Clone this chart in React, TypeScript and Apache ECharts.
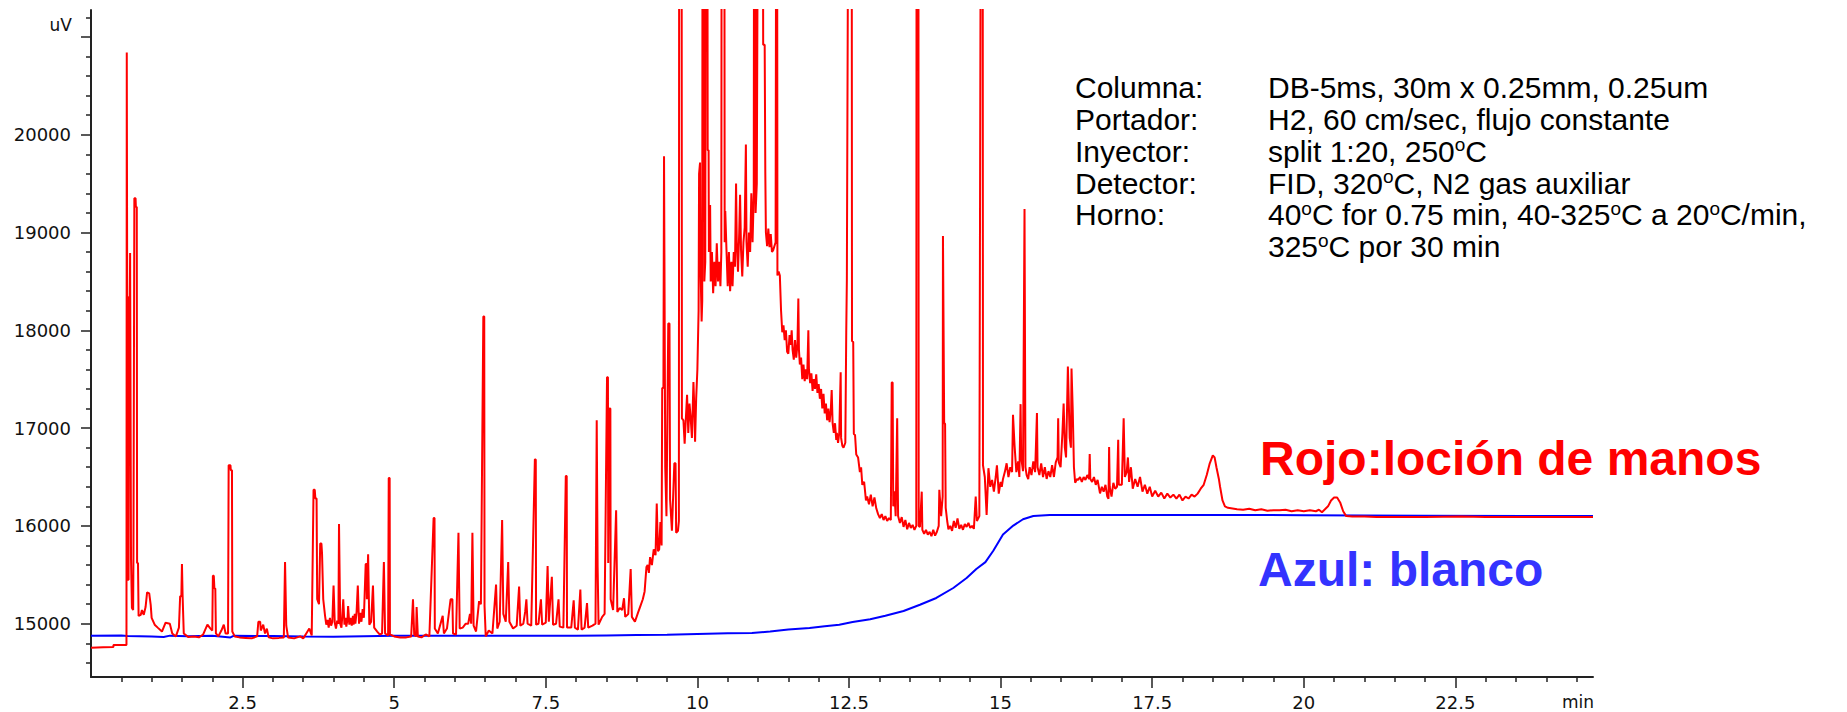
import React, { useEffect, useRef } from "react";
import * as echarts from "echarts";

// ---------- data ----------
const xLabelValues = [2.5, 5, 7.5, 10, 12.5, 15, 17.5, 20, 22.5];
const xMinorTickValues = [0.5, 1, 1.5, 2, 3, 3.5, 4, 4.5, 5.5, 6, 6.5, 7, 8, 8.5, 9, 9.5, 10.5, 11, 11.5, 12, 13, 13.5, 14, 14.5, 15.5, 16, 16.5, 17, 18, 18.5, 19, 19.5, 20.5, 21, 21.5, 22, 23, 23.5, 24, 24.5];
const yLabelValues = [15000, 16000, 17000, 18000, 19000, 20000];
const yMajorTickValues = [15000, 16000, 17000, 18000, 19000, 20000, 21000];
const yMinorTickValues = [14600, 14800, 15200, 15400, 15600, 15800, 16200, 16400, 16600, 16800, 17200, 17400, 17600, 17800, 18200, 18400, 18600, 18800, 19200, 19400, 19600, 19800, 20200, 20400, 20600, 20800, 21200];
const xMin = 0;
const xMax = 24.77;
const yMin = 14455;
const yMax = 21275;

const annotationLabels = ["Columna:", "Portador:", "Inyector:", "Detector:", "Horno:", ""];
const annotationValues = [
  "DB-5ms, 30m x 0.25mm, 0.25um",
  "H2, 60 cm/sec, flujo constante",
  "split 1:20, 250ºC",
  "FID, 320ºC, N2 gas auxiliar",
  "40ºC for 0.75 min, 40-325ºC a 20ºC/min,",
  "325ºC por 30 min",
];
const redLegend = "Rojo:loción de manos";
const blueLegend = "Azul: blanco";

// muestra: loción de manos (t [min], señal [uV])
const redTrace: [number, number][] = [
  [0.0, 14755], [0.2, 14760], [0.37, 14762], [0.37, 14782], [0.585, 14782],
  [0.59, 20840], [0.6, 20840], [0.605, 15450], [0.62, 15450], [0.625, 18340], [0.64, 18340], [0.645, 18790], [0.655, 18790],
  [0.66, 15660], [0.675, 15160], [0.695, 15140], [0.7, 15700], [0.715, 19350], [0.735, 19350], [0.74, 19260], [0.755, 19260],
  [0.76, 15620], [0.775, 15620], [0.785, 15080], [0.82, 15090], [0.84, 15140], [0.87, 15090], [0.9, 15170], [0.925, 15320],
  [0.96, 15310], [0.985, 15190], [1.0, 15060], [1.05, 14990], [1.1, 14960], [1.17, 14920], [1.23, 15010], [1.3, 15000], [1.34, 14900],
  [1.4, 14870], [1.45, 14960], [1.47, 15280], [1.49, 15280], [1.5, 15610], [1.51, 15300], [1.53, 14900], [1.6, 14865],
  [1.7, 14870], [1.78, 14860], [1.85, 14890], [1.92, 14990], [1.97, 14950], [2.0, 14930], [2.01, 15490], [2.025, 15490],
  [2.035, 15360], [2.05, 15360], [2.06, 14900], [2.1, 14870], [2.15, 14930], [2.19, 14990], [2.22, 14900], [2.26, 14900],
  [2.27, 16620], [2.3, 16620], [2.305, 16570], [2.325, 16570], [2.33, 14920], [2.37, 14870], [2.45, 14860], [2.55, 14855],
  [2.65, 14850], [2.74, 14870], [2.76, 15020], [2.79, 15020], [2.8, 14930], [2.84, 14990], [2.87, 14900], [2.9, 14950],
  [2.93, 14860], [3.0, 14850], [3.1, 14855], [3.18, 14860], [3.2, 15630], [3.21, 15630], [3.22, 14980], [3.25, 14860],
  [3.35, 14850], [3.45, 14870], [3.5, 14850], [3.55, 14900], [3.6, 14950], [3.64, 14880],
  [3.67, 16370], [3.69, 16370], [3.7, 16280], [3.72, 16280], [3.73, 15250], [3.76, 15200], [3.78, 15820], [3.8, 15820],
  [3.81, 15720], [3.82, 15720], [3.83, 15250], [3.86, 15080], [3.88, 14990], [3.9, 15040], [3.92, 14960], [3.94, 15060], [3.96, 14980], [3.98, 15020], [4.0, 15390],
  [4.01, 15390], [4.02, 15010], [4.04, 14950], [4.06, 15030], [4.08, 15000], [4.09, 16020], [4.1, 16020], [4.11, 15000], [4.13, 14960], [4.14, 15040],
  [4.16, 15250], [4.17, 15250], [4.18, 14990], [4.2, 15060], [4.21, 14970], [4.23, 15040], [4.24, 15180], [4.25, 15180], [4.26, 14990], [4.28, 15060], [4.3, 14980],
  [4.32, 15080], [4.33, 14990], [4.35, 15100], [4.36, 15000], [4.38, 15120], [4.4, 15390], [4.41, 15390], [4.42, 15000], [4.44, 15110], [4.46, 15020], [4.48, 15150], [4.5, 15060], [4.53, 15610],
  [4.545, 15610], [4.55, 15250], [4.57, 15710], [4.58, 15710], [4.59, 14990], [4.62, 15020], [4.65, 15390], [4.66, 15390],
  [4.67, 14960], [4.72, 14920], [4.76, 14890], [4.8, 14900], [4.83, 15630], [4.84, 15630], [4.85, 14900], [4.9, 14880],
  [4.91, 16490], [4.925, 16490], [4.93, 14890], [5.0, 14870], [5.1, 14860], [5.2, 14860], [5.28, 14870], [5.31, 15250],
  [5.32, 15250], [5.33, 14890], [5.36, 14870], [5.37, 15170], [5.38, 15170], [5.39, 14870], [5.45, 14860], [5.52, 14890], [5.58, 14870],
  [5.65, 16080], [5.665, 16080], [5.67, 14950], [5.72, 14900], [5.8, 15080], [5.81, 15080], [5.82, 14900], [5.87, 14950],
  [5.93, 15250], [5.96, 15250], [5.97, 14900], [6.02, 14890], [6.06, 15930], [6.07, 15930], [6.08, 14950], [6.13, 14960],
  [6.18, 15000], [6.22, 15000], [6.25, 15100], [6.27, 15000], [6.29, 15930], [6.3, 15930], [6.31, 14980], [6.35, 14920],
  [6.4, 15230], [6.43, 15200], [6.47, 18140], [6.485, 18140], [6.49, 15180], [6.51, 14870], [6.56, 14930], [6.62, 14900],
  [6.68, 15400], [6.69, 15400], [6.7, 14950], [6.74, 15020], [6.78, 16060], [6.79, 16060], [6.8, 15100], [6.84, 15020],
  [6.88, 15630], [6.89, 15630], [6.9, 15020], [6.96, 14950], [7.02, 14980], [7.06, 15380], [7.07, 15380], [7.08, 14980],
  [7.13, 15000], [7.16, 15120], [7.18, 15250], [7.19, 15250], [7.2, 15000], [7.26, 14980], [7.32, 16680], [7.335, 16680],
  [7.34, 14990], [7.38, 15000], [7.42, 15250], [7.43, 15250], [7.44, 14990], [7.5, 15010], [7.53, 15590], [7.54, 15590],
  [7.55, 15020], [7.6, 15480], [7.61, 15480], [7.62, 14990], [7.67, 15000], [7.71, 15250], [7.72, 15250], [7.73, 14970],
  [7.79, 14960], [7.83, 16510], [7.845, 16510], [7.85, 14960], [7.92, 14960], [7.96, 15240], [7.97, 15240], [7.98, 14960],
  [8.03, 14940], [8.07, 15350], [8.08, 15350], [8.09, 14940], [8.14, 14960], [8.18, 15210], [8.19, 15210], [8.2, 14960],
  [8.27, 14980], [8.32, 15000], [8.34, 17080], [8.35, 17080], [8.355, 15580], [8.37, 14990], [8.43, 15070], [8.47, 15100],
  [8.51, 17520], [8.525, 17520], [8.53, 15620], [8.55, 17200], [8.565, 17200], [8.57, 15250], [8.61, 15140], [8.66, 16160],
  [8.67, 16160], [8.68, 15120], [8.72, 15160], [8.76, 15140], [8.79, 15260], [8.8, 15260], [8.81, 15070], [8.86, 15100],
  [8.9, 15560], [8.91, 15560], [8.92, 15070], [8.97, 15020], [9.02, 15110], [9.06, 15180], [9.1, 15250], [9.13, 15330],
  [9.16, 15580], [9.18, 15600], [9.2, 15520], [9.22, 15680], [9.25, 15600], [9.28, 15760], [9.31, 15700], [9.33, 16230],
  [9.34, 16230], [9.35, 15740], [9.37, 15760], [9.39, 16040], [9.41, 15800], [9.42, 17410], [9.44, 17410], [9.45, 19780],
  [9.46, 19780], [9.47, 16600], [9.49, 16100], [9.52, 18070], [9.54, 18070], [9.55, 16270], [9.58, 15950], [9.62, 16640],
  [9.64, 16640], [9.65, 15930], [9.68, 15950],
  [9.695, 16050], [9.7, 23000], [9.74, 23000], [9.745, 17100],
  [9.77, 17080], [9.79, 16840], [9.81, 17100], [9.83, 17340], [9.85, 16950], [9.87, 17250], [9.89, 17100], [9.91, 16900],
  [9.935, 17470], [9.95, 17200], [9.962, 16860], [9.98, 17300], [10.0, 17600], [10.02, 18200], [10.028, 19600], [10.035, 19600],
  [10.044, 19716], [10.05, 18700], [10.07, 18090], [10.08, 18300], [10.085, 23000], [10.11, 23000], [10.115, 18500], [10.13, 18700],
  [10.14, 23000], [10.165, 23000], [10.17, 19840], [10.185, 19840], [10.19, 18800], [10.21, 19280], [10.22, 18500], [10.24, 18800],
  [10.26, 18380], [10.28, 18700], [10.3, 18450], [10.32, 18890], [10.34, 18500], [10.36, 18700], [10.38, 18450], [10.395, 18800],
  [10.4, 23000], [10.445, 23000], [10.45, 18900], [10.46, 19220], [10.48, 18820], [10.5, 18450], [10.52, 18800], [10.54, 18400],
  [10.56, 18700], [10.58, 18450], [10.6, 18800], [10.62, 18650], [10.638, 19500], [10.65, 18900], [10.67, 18600], [10.69, 19000],
  [10.704, 19386], [10.72, 18820], [10.74, 18550], [10.76, 18900], [10.78, 19050], [10.8, 19900], [10.81, 18900], [10.83, 18650],
  [10.85, 19000], [10.87, 18800], [10.89, 19400], [10.91, 18900], [10.93, 19390], [10.935, 23000], [10.955, 23000], [10.96, 19200],
  [10.98, 19500], [11.0, 23000], [11.08, 23000], [11.085, 20920], [11.11, 20920], [11.12, 19620], [11.13, 19000], [11.15, 18860],
  [11.17, 19040], [11.19, 18850], [11.21, 18984], [11.23, 18800], [11.25, 18820], [11.29, 18900], [11.3, 23000], [11.315, 23000],
  [11.32, 18560], [11.34, 18600], [11.36, 18560], [11.38, 18200],
  [11.4, 17980], [11.42, 18050], [11.44, 17900], [11.46, 18000], [11.48, 17780], [11.5, 17760], [11.52, 17950], [11.54, 17850],
  [11.555, 18000], [11.57, 17800], [11.59, 17700], [11.61, 17900], [11.63, 17720], [11.65, 17850], [11.665, 18325], [11.675, 17800],
  [11.69, 17650], [11.71, 17720], [11.73, 17500], [11.75, 17650], [11.77, 17480], [11.79, 17600], [11.81, 17500], [11.83, 18000],
  [11.84, 17600], [11.86, 17460], [11.88, 17560], [11.9, 17380], [11.92, 17500], [11.94, 17400], [11.96, 17550], [11.98, 17360],
  [12.0, 17450], [12.02, 17300], [12.04, 17400], [12.06, 17200], [12.08, 17350], [12.1, 17150], [12.12, 17250], [12.14, 17080],
  [12.16, 17200], [12.18, 17060], [12.2, 17180], [12.215, 17390], [12.23, 17050], [12.25, 16950], [12.27, 17050], [12.29, 16880],
  [12.3, 16950], [12.32, 16850], [12.34, 16950], [12.363, 17570], [12.37, 16900], [12.39, 16820], [12.41, 16800], [12.44, 16850],
  [12.455, 17980], [12.465, 18510], [12.49, 23000], [12.545, 23000], [12.55, 17890], [12.57, 17880], [12.58, 16940], [12.6, 16930],
  [12.62, 16730], [12.65, 16700], [12.68, 16550], [12.7, 16600], [12.72, 16420], [12.75, 16450], [12.78, 16260], [12.8, 16300],
  [12.83, 16220], [12.86, 16320], [12.89, 16200], [12.92, 16290], [12.95, 16180], [12.98, 16120], [13.01, 16080], [13.04, 16120],
  [13.07, 16060], [13.1, 16100], [13.13, 16050], [13.16, 16080], [13.19, 16060], [13.205, 17466], [13.22, 17466], [13.23, 16200],
  [13.25, 16354], [13.27, 16100], [13.295, 17100], [13.305, 17100], [13.31, 16100], [13.34, 16030], [13.37, 16090], [13.4, 15990],
  [13.43, 16060], [13.46, 15965], [13.49, 16030], [13.52, 15980], [13.55, 16010], [13.58, 15960], [13.61, 16000], [13.615, 23000],
  [13.645, 23000], [13.65, 16000], [13.67, 15990], [13.7, 16350], [13.71, 15960], [13.74, 15920], [13.77, 15960], [13.8, 15910],
  [13.83, 15940], [13.86, 15895], [13.89, 15960], [13.92, 15900], [13.95, 15940], [13.98, 16000], [13.99, 16370], [14.02, 16100],
  [14.045, 16300], [14.05, 18965], [14.06, 18965], [14.07, 17050], [14.085, 17045], [14.095, 16185], [14.12, 16050], [14.14, 15965],
  [14.17, 16000], [14.2, 15950], [14.23, 16050], [14.26, 15980], [14.29, 16076], [14.32, 15970], [14.35, 16010], [14.38, 15960],
  [14.41, 16020], [14.44, 15990], [14.47, 16030], [14.5, 15980], [14.53, 16000], [14.56, 15970], [14.59, 16300], [14.61, 16050],
  [14.65, 16100], [14.675, 23000], [14.705, 23000], [14.71, 16620], [14.74, 16500], [14.77, 16112], [14.8, 16590], [14.83, 16400],
  [14.86, 16470], [14.89, 16350], [14.92, 16500], [14.94, 16620], [14.97, 16330], [15.0, 16450], [15.02, 16400], [15.04, 16480],
  [15.07, 16550], [15.1, 16640], [15.13, 16500], [15.16, 16600], [15.19, 16550], [15.205, 17136], [15.215, 17136], [15.23, 16830],
  [15.26, 16550], [15.29, 16660], [15.31, 16500], [15.33, 17245], [15.34, 16700], [15.37, 16560], [15.395, 19240], [15.405, 19240],
  [15.41, 16600], [15.43, 16520], [15.456, 16478], [15.48, 16600], [15.51, 16520], [15.54, 16660], [15.57, 16550], [15.6, 17155],
  [15.61, 16600], [15.64, 16520], [15.67, 16640], [15.7, 16500], [15.73, 16600], [15.76, 16480], [15.79, 16560], [15.82, 16500],
  [15.85, 16620], [15.88, 16500], [15.91, 16650], [15.94, 16700], [15.95, 17100], [15.96, 16650], [15.99, 16600], [16.02, 16950],
  [16.04, 17250], [16.06, 16800], [16.08, 16700], [16.11, 17630], [16.12, 17630], [16.14, 16900], [16.16, 16800], [16.17, 17610],
  [16.18, 17610], [16.19, 17190], [16.21, 16600], [16.23, 16441], [16.26, 16480], [16.28, 16470], [16.31, 16500], [16.34, 16450],
  [16.37, 16500], [16.4, 16470], [16.43, 16520], [16.46, 16480], [16.47, 16734], [16.48, 16480], [16.51, 16450], [16.54, 16500],
  [16.57, 16420], [16.6, 16470], [16.64, 16332], [16.67, 16400], [16.7, 16350], [16.73, 16420], [16.76, 16300], [16.78, 16277],
  [16.79, 16807], [16.8, 16400], [16.83, 16300], [16.86, 16441], [16.89, 16380], [16.92, 16400], [16.94, 16880], [16.95, 16420],
  [17.0, 16420], [17.03, 17100], [17.04, 17100], [17.05, 16500], [17.08, 16550], [17.1, 16700], [17.12, 16450], [17.15, 16600],
  [17.18, 16380], [17.22, 16480], [17.26, 16400], [17.3, 16500], [17.34, 16350], [17.38, 16420], [17.42, 16330], [17.46, 16400],
  [17.5, 16300], [17.55, 16360], [17.6, 16300], [17.65, 16340], [17.7, 16280], [17.75, 16330], [17.8, 16290], [17.85, 16320],
  [17.9, 16280], [17.95, 16320], [18.0, 16260], [18.05, 16300], [18.1, 16280], [18.15, 16320], [18.2, 16300], [18.25, 16330],
  [18.3, 16380], [18.35, 16420], [18.4, 16520], [18.45, 16640], [18.5, 16720], [18.53, 16700], [18.56, 16600], [18.6, 16480],
  [18.62, 16400], [18.66, 16260], [18.7, 16200], [18.75, 16185], [18.8, 16180], [18.9, 16170], [19.0, 16165], [19.1, 16175],
  [19.2, 16160], [19.3, 16170], [19.4, 16155], [19.5, 16160], [19.6, 16160], [19.7, 16165], [19.8, 16150], [19.9, 16160],
  [20.0, 16150], [20.1, 16160], [20.2, 16150], [20.25, 16165], [20.3, 16140], [20.35, 16170], [20.4, 16200], [20.45, 16260],
  [20.5, 16290], [20.55, 16290], [20.6, 16240], [20.65, 16150], [20.7, 16100], [20.8, 16095], [21.0, 16095], [21.2, 16090],
  [21.6, 16092], [22.0, 16090], [22.6, 16095], [23.0, 16090], [23.6, 16092], [24.2, 16090], [24.77, 16090],
];

// blanco (t [min], señal [uV])
const blueTrace: [number, number][] = [
  [0.0, 14878], [0.5, 14880], [0.6, 14875], [1.0, 14870], [1.2, 14865], [1.3, 14878], [1.6, 14872], [2.0, 14876],
  [2.3, 14860], [2.35, 14876], [3.0, 14874], [3.5, 14868], [4.0, 14866], [4.5, 14872], [5.0, 14876], [6.0, 14878],
  [7.0, 14878], [7.5, 14878], [8.0, 14876], [8.5, 14880], [9.0, 14884], [9.5, 14888], [10.0, 14895], [10.5, 14902],
  [10.9, 14905], [11.2, 14920], [11.5, 14940], [11.85, 14956], [12.1, 14975], [12.34, 14990], [12.56, 15017], [12.85, 15045],
  [13.1, 15082], [13.4, 15130], [13.67, 15194], [13.94, 15263], [14.22, 15365], [14.44, 15467], [14.6, 15560], [14.75, 15630],
  [14.88, 15746], [15.04, 15911], [15.21, 16003], [15.37, 16068], [15.54, 16101], [15.81, 16112], [16.5, 16112], [18.0, 16112],
  [20.0, 16110], [22.0, 16105], [24.77, 16100],
];

// ---------- helpers ----------
const toRich = (s: string) =>
  s.split("º").map((p) => (p ? `{a|${p}}` : "")).join("{s|o}");

const axisColor = "#222";
const tickFont = "DejaVu Sans";

export default function App() {
  const ref = useRef<HTMLDivElement>(null);

  useEffect(() => {
    if (!ref.current) return;
    const chart = echarts.init(ref.current, undefined, { renderer: "svg" });

    const annFont = "Liberation Sans, Arial, sans-serif";
    const rowY0 = 87.6;
    const rowStep = 31.8;
    const graphics: any[] = [];
    annotationLabels.forEach((lab, i) => {
      if (lab) {
        graphics.push({
          type: "text",
          x: 1075,
          y: rowY0 + i * rowStep,
          style: { text: lab, fill: "#000", fontSize: 30, fontFamily: annFont, align: "left", verticalAlign: "middle" },
        });
      }
    });
    annotationValues.forEach((val, i) => {
      graphics.push({
        type: "text",
        x: 1268,
        y: rowY0 + i * rowStep,
        style: {
          text: toRich(val),
          fill: "#000",
          fontSize: 30,
          fontFamily: annFont,
          align: "left",
          verticalAlign: "middle",
          rich: {
            a: { fontSize: 30, fontFamily: annFont, fill: "#000", lineHeight: 32 },
            s: { fontSize: 19, fontFamily: annFont, fill: "#000", lineHeight: 19, verticalAlign: "top" },
          },
        },
      });
    });
    graphics.push({
      type: "text",
      x: 1260,
      y: 458,
      style: { text: redLegend, fill: "#FF0000", fontSize: 48, fontWeight: "bold", fontFamily: annFont, align: "left", verticalAlign: "middle" },
    });
    graphics.push({
      type: "text",
      x: 1258,
      y: 569,
      style: { text: blueLegend, fill: "#3333FF", fontSize: 48, fontWeight: "bold", fontFamily: annFont, align: "left", verticalAlign: "middle" },
    });
    graphics.push({
      type: "text",
      x: 72,
      y: 25,
      style: { text: "uV", fill: "#111", fontSize: 17, fontFamily: tickFont, align: "right", verticalAlign: "middle" },
    });
    graphics.push({
      type: "text",
      x: 1594,
      y: 702,
      style: { text: "min", fill: "#111", fontSize: 17, fontFamily: tickFont, align: "right", verticalAlign: "middle" },
    });

    const plain = (v: number) => String(v);

    const option: any = {
      animation: false,
      backgroundColor: "#ffffff",
      grid: { left: 91, top: 10, right: 254, bottom: 35, containLabel: false },
      xAxis: [
        {
          type: "value",
          min: xMin,
          max: xMax,
          position: "bottom",
          axisLine: { show: true, onZero: false, lineStyle: { color: axisColor, width: 2 } },
          axisTick: { show: true, customValues: xMinorTickValues, length: 5, lineStyle: { color: axisColor, width: 1.5 } },
          axisLabel: { show: true, customValues: xLabelValues, margin: 16, color: "#111", fontSize: 18, fontFamily: tickFont, formatter: plain },
          splitLine: { show: false },
        },
        {
          type: "value",
          min: xMin,
          max: xMax,
          position: "bottom",
          gridIndex: 0,
          axisLine: { show: false, onZero: false },
          axisTick: { show: true, customValues: xLabelValues, length: 11, lineStyle: { color: axisColor, width: 1.5 } },
          axisLabel: { show: false },
          splitLine: { show: false },
        },
      ],
      yAxis: [
        {
          type: "value",
          min: yMin,
          max: yMax,
          position: "left",
          axisLine: { show: true, onZero: false, lineStyle: { color: axisColor, width: 2 } },
          axisTick: { show: true, customValues: yMajorTickValues, length: 10, lineStyle: { color: axisColor, width: 1.5 } },
          axisLabel: { show: true, customValues: yLabelValues, margin: 20, color: "#111", fontSize: 18, fontFamily: tickFont, formatter: plain },
          splitLine: { show: false },
        },
        {
          type: "value",
          min: yMin,
          max: yMax,
          position: "left",
          gridIndex: 0,
          axisLine: { show: false, onZero: false },
          axisTick: { show: true, customValues: yMinorTickValues, length: 5, lineStyle: { color: axisColor, width: 1.5 } },
          axisLabel: { show: false },
          splitLine: { show: false },
        },
      ],
      series: [
        {
          name: blueLegend,
          type: "line",
          data: blueTrace,
          xAxisIndex: 0,
          yAxisIndex: 0,
          showSymbol: false,
          symbol: "none",
          lineStyle: { color: "#0000FF", width: 2 },
          clip: true,
          z: 2,
        },
        {
          name: redLegend,
          type: "line",
          data: redTrace,
          xAxisIndex: 0,
          yAxisIndex: 0,
          showSymbol: false,
          symbol: "none",
          lineStyle: { color: "#FF0000", width: 2 },
          clip: true,
          z: 3,
        },
      ],
      graphic: graphics,
    };

    chart.setOption(option);
    return () => chart.dispose();
  }, []);

  return (
    <div
      ref={ref}
      style={{ position: "fixed", left: 0, top: 0, width: 1847, height: 712, background: "#fff" }}
    />
  );
}
